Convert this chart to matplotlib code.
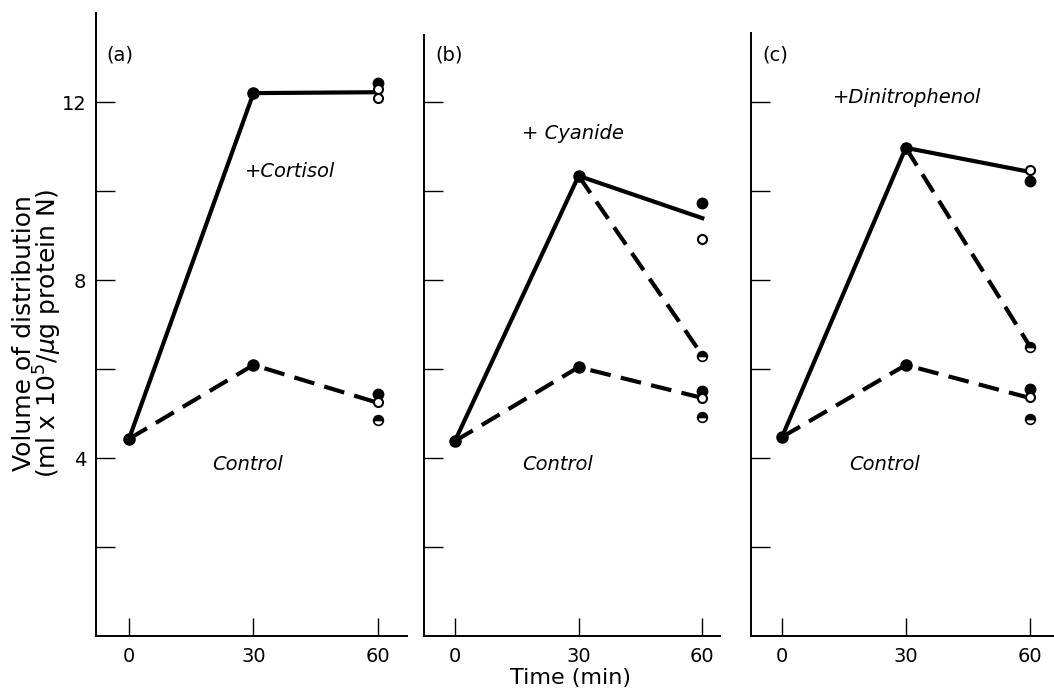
import numpy as np
import matplotlib.pyplot as plt

# time points (min)
time = [0, 30, 60]

# control curves (dashed) for each panel
control_a = [4.43, 6.09, 5.24]
control_b = [4.38, 6.04, 5.35]
control_c = [4.47, 6.09, 5.35]

# treated curves (solid)
cortisol = [4.43, 12.2, 12.22]
cyanide = [4.38, 10.34, 9.39]
dinitrophenol = [4.47, 10.97, 10.43]

# dashed branch of treated curves, from 30 to 60 min
branch_time = [30, 60]
cyanide_branch = [10.34, 6.31]
dinitrophenol_branch = [10.97, 6.52]

# single measurements at 60 min
filled_a = [12.42, 5.44]
open_a = [12.3, 12.1, 5.26]
half_a = [4.85]
filled_b = [9.73, 5.51]
open_b = [8.92, 5.35]
half_b = [6.29, 4.93]
filled_c = [10.22, 5.55]
open_c = [10.47, 5.37]
half_c = [6.5, 4.88]

panel_labels = ['(a)', '(b)', '(c)']
treat_labels = ['+Cortisol', '+ Cyanide', '+Dinitrophenol']
y_ticks = [2, 4, 6, 8, 10, 12]
y_ticklabels = ['', '4', '', '8', '', '12']
x_ticks = [0, 30, 60]

W, H = 1054, 690
fig = plt.figure(figsize=(W / 100, H / 100), dpi=100)

# axes boxes in pixels: left, right, and x limits
boxes = [(96, 407, -7.95, 67.0), (424, 720, -7.5, 64.3), (751, 1054, -7.5, 65.9)]
spine_top = [14.0, 13.5, 13.55]
top_px, bottom_px = 13, 636

controls = [control_a, control_b, control_c]
treated = [cortisol, cyanide, dinitrophenol]
branches = [None, cyanide_branch, dinitrophenol_branch]
filled = [filled_a, filled_b, filled_c]
opened = [open_a, open_b, open_c]
halfs = [half_a, half_b, half_c]
treat_pos = [(28, 10.43), (16.3, 11.3), (12.3, 12.1)]

for i in range(3):
    l, r, x0, x1 = boxes[i]
    ax = fig.add_axes([l / W, (H - bottom_px) / H, (r - l) / W, (bottom_px - top_px) / H])
    ax.set_xlim(x0, x1)
    ax.set_ylim(0, 14.0)
    ax.spines['top'].set_visible(False)
    ax.spines['right'].set_visible(False)
    ax.spines['left'].set_bounds(0, spine_top[i])
    for s in ['left', 'bottom']:
        ax.spines[s].set_linewidth(1.4)

    lw = 3
    ax.plot(time, controls[i], color='k', lw=lw, dashes=(5, 2.5), dash_capstyle='butt')
    ax.plot(time, treated[i], color='k', lw=lw)
    if branches[i] is not None:
        ax.plot(branch_time, branches[i], color='k', lw=lw, dashes=(5, 2.5), dash_capstyle='butt')

    # vertex dots at 0 and 30 min
    ax.plot(time[:2], controls[i][:2], 'o', color='k', ms=8)
    ax.plot(time[1:2], treated[i][1:2], 'o', color='k', ms=8)

    # individual points at 60 min
    ax.plot([60] * len(filled[i]), filled[i], 'o', color='k', ms=7.5)
    ax.plot([60] * len(opened[i]), opened[i], 'o', mfc='white', mec='k', mew=1.5, ms=6.5)
    ax.plot([60] * len(halfs[i]), halfs[i], 'o', mfc='k', mec='k', mfcalt='white',
            fillstyle='top', mew=1.2, ms=7)

    ax.set_xticks(x_ticks)
    ax.set_yticks(y_ticks)
    if i == 0:
        ax.set_yticklabels(y_ticklabels)
    else:
        ax.set_yticklabels([])
    ax.tick_params(axis='y', direction='in', length=14, width=1, pad=7, labelsize=14)
    ax.tick_params(axis='x', direction='in', length=13, width=1, pad=8, labelsize=14)

    ax.text(x0 + 2.6 if i == 0 else x0 + 2.8, 13.06, panel_labels[i], fontsize=14, va='center')
    ax.text(treat_pos[i][0], treat_pos[i][1], treat_labels[i], fontsize=14, style='italic', va='center')
    ax.text(20 if i == 0 else 16.4, 3.86, 'Control', fontsize=14, style='italic', va='center')

fig.text(38 / W, (H - 333) / H, 'Volume of distribution\n(ml x 10$^5$/$\\mu$g protein N)',
         rotation=90, ha='center', va='center', fontsize=18, linespacing=0.85)
fig.text(570 / W, (H - 688) / H, 'Time (min)', ha='center', va='bottom', fontsize=16)

plt.savefig('out.png', dpi=100)
